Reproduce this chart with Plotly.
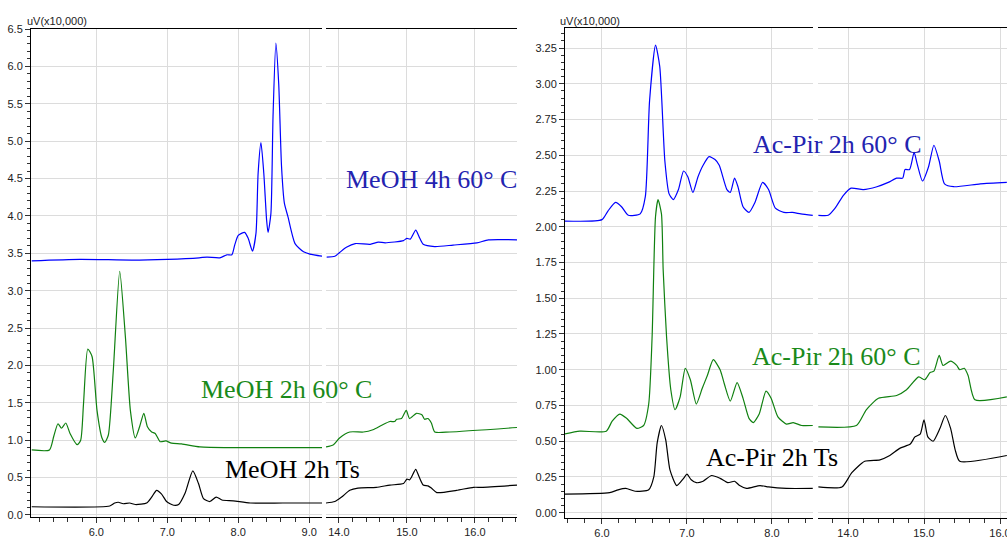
import plotly.graph_objects as go

# ---------------- data (retention time min, uV x10,000) ----------------
# Left panel: MeOH samples
meoh4h_x1 = [5.09, 5.77, 6.5, 7.0, 7.45, 7.56, 7.74, 7.84, 7.91, 7.95, 8.0, 8.09, 8.14, 8.2, 8.25, 8.28,
             8.32, 8.36, 8.40, 8.42, 8.46, 8.49, 8.53, 8.57, 8.61, 8.65, 8.70, 8.80, 8.92, 9.01, 9.19]
meoh4h_y1 = [3.40, 3.42, 3.41, 3.42, 3.44, 3.45, 3.44, 3.48, 3.48, 3.61, 3.74, 3.78, 3.70, 3.53, 3.77, 4.57,
             4.98, 4.57, 3.94, 3.78, 4.03, 5.33, 6.31, 5.77, 4.66, 4.17, 3.99, 3.63, 3.52, 3.49, 3.46]
meoh4h_x2 = [13.82, 13.94, 14.01, 14.11, 14.24, 14.46, 14.58, 14.68, 14.95, 15.00, 15.05, 15.13, 15.18,
             15.24, 15.41, 15.68, 16.03, 16.20, 16.62]
meoh4h_y2 = [3.45, 3.46, 3.51, 3.58, 3.63, 3.62, 3.65, 3.64, 3.67, 3.70, 3.69, 3.81, 3.72,
             3.62, 3.59, 3.61, 3.64, 3.68, 3.68]

meoh2h_x1 = [5.09, 5.34, 5.40, 5.46, 5.51, 5.57, 5.63, 5.73, 5.78, 5.82, 5.88, 5.94, 6.01, 6.08, 6.12,
             6.17, 6.24, 6.33, 6.41, 6.48, 6.55, 6.61, 6.67, 6.72, 6.78, 6.83, 6.90, 6.98, 7.06, 7.20,
             7.46, 7.93, 9.19]
meoh2h_y1 = [0.87, 0.87, 1.05, 1.22, 1.16, 1.23, 1.09, 0.94, 1.00, 1.49, 2.22, 2.12, 1.40, 1.03, 0.97,
             1.07, 1.94, 3.26, 2.38, 1.40, 1.03, 1.18, 1.36, 1.18, 1.11, 1.09, 0.98, 0.99, 0.96, 0.95,
             0.91, 0.90, 0.90]
meoh2h_x2 = [13.81, 13.92, 14.01, 14.16, 14.36, 14.50, 14.63, 14.75, 14.82, 14.85, 14.92, 14.99, 15.04,
             15.14, 15.22, 15.26, 15.31, 15.36, 15.41, 15.63, 16.62]
meoh2h_y2 = [0.91, 0.94, 1.03, 1.11, 1.11, 1.14, 1.20, 1.25, 1.25, 1.28, 1.29, 1.40, 1.29,
             1.36, 1.34, 1.28, 1.29, 1.23, 1.11, 1.11, 1.17]

meohts_x1 = [5.09, 6.19, 6.26, 6.31, 6.38, 6.47, 6.55, 6.71, 6.78, 6.85, 6.92, 6.99, 7.09, 7.16, 7.25,
             7.36, 7.44, 7.51, 7.60, 7.69, 7.77, 7.93, 8.17, 8.63, 9.19]
meohts_y1 = [0.11, 0.12, 0.16, 0.17, 0.15, 0.16, 0.14, 0.16, 0.24, 0.33, 0.28, 0.18, 0.13, 0.14, 0.29,
             0.59, 0.42, 0.22, 0.18, 0.24, 0.20, 0.19, 0.16, 0.16, 0.16]
meohts_x2 = [13.81, 13.94, 14.04, 14.16, 14.28, 14.55, 14.75, 14.95, 15.00, 15.04, 15.07, 15.13, 15.18,
             15.24, 15.31, 15.36, 15.44, 15.73, 15.98, 16.10, 16.62]
meohts_y2 = [0.16, 0.18, 0.24, 0.33, 0.36, 0.37, 0.40, 0.42, 0.48, 0.47, 0.51, 0.61, 0.51,
             0.40, 0.39, 0.36, 0.30, 0.33, 0.37, 0.37, 0.40]

# Right panel: Ac-Pir samples
acpir60b_x1 = [5.56, 6.00, 6.07, 6.16, 6.23, 6.31, 6.45, 6.51, 6.56, 6.63, 6.68, 6.74, 6.79, 6.84, 6.90,
               6.96, 7.01, 7.07, 7.13, 7.19, 7.26, 7.33, 7.38, 7.47, 7.51, 7.56, 7.60, 7.66, 7.73, 7.80,
               7.89, 7.96, 8.04, 8.14, 8.24, 8.34, 8.48]
acpir60b_y1 = [2.04, 2.05, 2.11, 2.17, 2.14, 2.08, 2.09, 2.21, 2.88, 3.27, 3.12, 2.46, 2.23, 2.19, 2.26,
               2.39, 2.35, 2.24, 2.35, 2.43, 2.49, 2.47, 2.43, 2.26, 2.24, 2.34, 2.28, 2.14, 2.10, 2.17,
               2.31, 2.26, 2.13, 2.10, 2.10, 2.09, 2.08]
acpir60b_x2 = [13.61, 13.74, 13.83, 13.94, 14.04, 14.20, 14.38, 14.53, 14.64, 14.72, 14.75, 14.81, 14.87,
               14.91, 14.98, 15.06, 15.13, 15.20, 15.27, 15.39, 15.74, 16.09]
acpir60b_y2 = [2.08, 2.08, 2.13, 2.22, 2.27, 2.26, 2.28, 2.31, 2.34, 2.34, 2.40, 2.40, 2.52,
               2.44, 2.32, 2.42, 2.57, 2.46, 2.30, 2.28, 2.30, 2.31]

acpir60g_x1 = [5.56, 5.74, 6.05, 6.12, 6.21, 6.29, 6.41, 6.49, 6.55, 6.59, 6.63, 6.66, 6.70, 6.72, 6.76,
               6.81, 6.86, 6.92, 6.98, 7.04, 7.11, 7.18, 7.24, 7.31, 7.39, 7.44, 7.51, 7.59, 7.66, 7.73,
               7.78, 7.85, 7.93, 7.99, 8.07, 8.17, 8.25, 8.35, 8.48]
acpir60g_y1 = [0.55, 0.57, 0.57, 0.64, 0.69, 0.66, 0.59, 0.61, 0.76, 1.23, 2.07, 2.19, 2.09, 1.70, 1.23,
               0.86, 0.72, 0.81, 1.01, 0.93, 0.76, 0.87, 0.96, 1.07, 1.00, 0.90, 0.78, 0.91, 0.80, 0.66,
               0.63, 0.69, 0.85, 0.80, 0.67, 0.62, 0.63, 0.61, 0.61]
acpir60g_x2 = [13.61, 14.11, 14.24, 14.40, 14.64, 14.77, 14.93, 15.01, 15.08, 15.13, 15.20, 15.25, 15.35,
               15.43, 15.47, 15.53, 15.58, 15.67, 16.09]
acpir60g_y2 = [0.60, 0.61, 0.72, 0.80, 0.82, 0.86, 0.95, 0.93, 0.98, 0.99, 1.10, 1.03, 1.06,
               1.03, 1.00, 1.01, 0.96, 0.79, 0.81]

acpirts_x1 = [5.56, 6.09, 6.19, 6.28, 6.39, 6.55, 6.61, 6.65, 6.70, 6.75, 6.80, 6.88, 6.96, 7.00, 7.05,
              7.11, 7.19, 7.29, 7.39, 7.48, 7.56, 7.62, 7.70, 7.86, 7.96, 8.17, 8.48]
acpirts_y1 = [0.13, 0.14, 0.16, 0.17, 0.15, 0.16, 0.25, 0.49, 0.61, 0.51, 0.30, 0.19, 0.24, 0.27, 0.23,
              0.21, 0.22, 0.26, 0.24, 0.21, 0.22, 0.19, 0.17, 0.19, 0.18, 0.17, 0.17]
acpirts_x2 = [13.61, 13.92, 14.05, 14.22, 14.42, 14.55, 14.68, 14.82, 14.88, 14.95, 15.00, 15.05, 15.12,
              15.21, 15.28, 15.35, 15.41, 15.47, 16.09]
acpirts_y2 = [0.18, 0.18, 0.28, 0.36, 0.37, 0.40, 0.45, 0.48, 0.53, 0.55, 0.65, 0.53, 0.50,
              0.59, 0.68, 0.59, 0.44, 0.36, 0.40]

left_labels = ["MeOH 4h 60° C", "MeOH 2h 60° C", "MeOH 2h Ts"]
right_labels = ["Ac-Pir 2h 60° C", "Ac-Pir 2h 60° C", "Ac-Pir 2h Ts"]
y_unit = "uV(x10,000)"

# ---------------- styling ----------------
OFF = 0                      # page body margin removed via post_script
W, H = 1007, 538
BLUE, GREEN, BLACK = "#0000ff", "#108010", "#000000"
TXT_BLUE, TXT_GREEN = "#2323b0", "#1a8a1a"
TICKFONT = dict(family="Liberation Sans, Arial, sans-serif", size=11, color="#222222")
GRID = "#dcdcdc"

fig = go.Figure()

def add(x, y, color, xa, ya):
    fig.add_trace(go.Scatter(x=x, y=y, mode="lines", xaxis=xa, yaxis=ya,
                             line=dict(color=color, width=1.2, shape="spline", smoothing=0.6),
                             hoverinfo="skip", showlegend=False))

add(meoh4h_x1, meoh4h_y1, BLUE, "x", "y")
add(meoh4h_x2, meoh4h_y2, BLUE, "x2", "y")
add(meoh2h_x1, meoh2h_y1, GREEN, "x", "y")
add(meoh2h_x2, meoh2h_y2, GREEN, "x2", "y")
add(meohts_x1, meohts_y1, BLACK, "x", "y")
add(meohts_x2, meohts_y2, BLACK, "x2", "y")

add(acpir60b_x1, acpir60b_y1, BLUE, "x3", "y2")
add(acpir60b_x2, acpir60b_y2, BLUE, "x4", "y2")
add(acpir60g_x1, acpir60g_y1, GREEN, "x3", "y2")
add(acpir60g_x2, acpir60g_y2, GREEN, "x4", "y2")
add(acpirts_x1, acpirts_y1, BLACK, "x3", "y2")
add(acpirts_x2, acpirts_y2, BLACK, "x4", "y2")

def px(v):
    return (v - OFF) / W

def py(v):
    return 1 - (v - OFF) / H

def xaxis(dom, rng, anchor):
    return dict(domain=[max(0, px(dom[0])), min(1, px(dom[1]))], range=rng, anchor=anchor,
                showline=True, linecolor="#000000", linewidth=1, mirror=True,
                ticks="outside", ticklen=5, tickcolor="#333333", dtick=1.0, tick0=0,
                tickformat=".1f", tickfont=TICKFONT, ticklabeloverflow="allow",
                minor=dict(dtick=0.2, tick0=0, ticks="outside", ticklen=4, tickcolor="#333333", showgrid=False),
                showgrid=True, gridcolor=GRID, gridwidth=1, zeroline=False, automargin=False,
                fixedrange=True)

def yaxis(dom, rng, anchor, dtick, minor, fmt):
    return dict(domain=[py(dom[1]), py(dom[0])], range=rng, anchor=anchor,
                showline=True, linecolor="#000000", linewidth=1, mirror=False,
                ticks="outside", ticklen=5, tickcolor="#333333", dtick=dtick, tick0=0,
                tickformat=fmt, tickfont=TICKFONT,
                minor=dict(dtick=minor, tick0=0, ticks="outside", ticklen=3, tickcolor="#333333", showgrid=False),
                showgrid=True, gridcolor=GRID, gridwidth=1, zeroline=False, automargin=False,
                fixedrange=True)

fig.update_layout(
    width=W, height=H, template="none",
    margin=dict(l=0, r=0, t=0, b=0, pad=0),
    paper_bgcolor="white", plot_bgcolor="white",
    xaxis=xaxis((31, 322), [5.08, 9.18], "y"),
    xaxis2=xaxis((326, 517), [13.81, 16.62], "y"),
    xaxis3=xaxis((565, 813), [5.565, 8.483], "y2"),
    xaxis4=xaxis((818, 1007), [13.605, 16.092], "y2"),
    yaxis=yaxis((29, 517), [-0.027, 6.5], "x", 0.5, 0.1, ".1f"),
    yaxis2=yaxis((28, 518), [-0.037, 3.39], "x3", 0.25, 0.05, ".2f"),
    showlegend=False,
)

SERIF = "Liberation Serif, Times New Roman, serif"
labels = [
    (left_labels[0], 344, 179, TXT_BLUE),
    (left_labels[1], 199, 389, TXT_GREEN),
    (left_labels[2], 223, 469, BLACK),
    (right_labels[0], 751, 144, TXT_BLUE),
    (right_labels[1], 750, 356, TXT_GREEN),
    (right_labels[2], 704, 457, BLACK),
]
for text, lx, ly, col in labels:
    fig.add_annotation(text=text, x=px(lx), y=py(ly), xref="paper", yref="paper",
                       xanchor="left", yanchor="middle", showarrow=False,
                       font=dict(family=SERIF, size=26, color=col))

for ux in (25, 558):
    fig.add_annotation(text=y_unit, x=px(ux), y=py(21), xref="paper", yref="paper",
                       xanchor="left", yanchor="middle", showarrow=False,
                       font=dict(family="Liberation Sans, Arial, sans-serif", size=11, color="#222222"))

fig.write_html("out.html",
               config={"displayModeBar": False, "staticPlot": True},
               post_script="document.body.style.margin='0';"
                           "document.documentElement.style.overflow='hidden';"
                           "document.body.style.overflow='hidden';")
